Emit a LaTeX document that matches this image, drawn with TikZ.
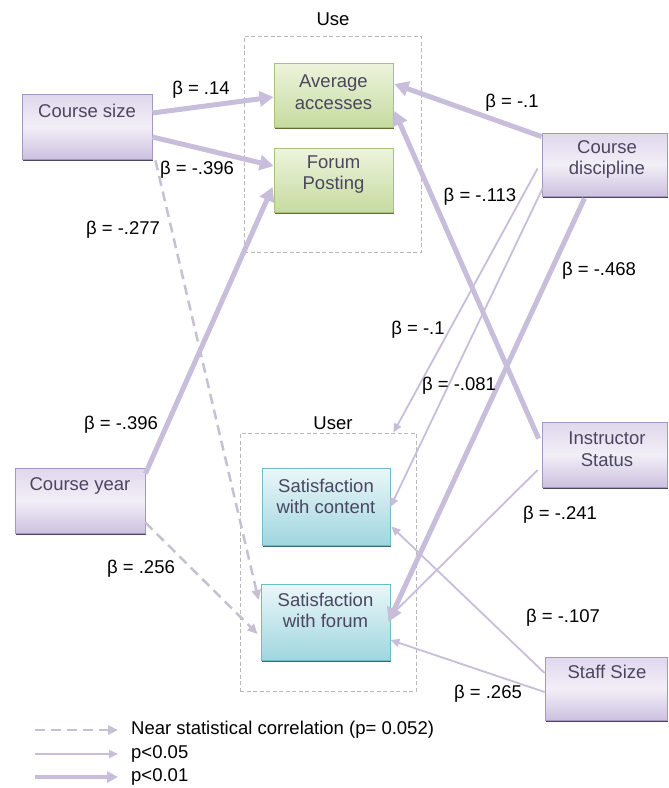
\documentclass[tikz,border=0pt]{standalone}
\usepackage{fontspec}
\setmainfont{Liberation Sans}
\usetikzlibrary{arrows.meta,calc,shadows}
\definecolor{arr}{HTML}{C8BEDB}
\definecolor{arrd}{HTML}{C6C0D2}
\definecolor{pbord}{HTML}{A598C0}
\definecolor{ptop}{HTML}{E0D7EC}
\definecolor{pmid}{HTML}{F2EFF7}
\definecolor{pbot}{HTML}{CDC1E0}
\definecolor{pshad}{HTML}{4E4468}
\definecolor{gtop}{HTML}{EDF4DC}
\definecolor{gbot}{HTML}{C6DBA0}
\definecolor{gbord}{HTML}{A8C27C}
\definecolor{gshad}{HTML}{5E7035}
\definecolor{btop}{HTML}{EAF7F9}
\definecolor{bbot}{HTML}{A0D6DF}
\definecolor{bbord}{HTML}{6DBCC8}
\definecolor{bshad}{HTML}{2F6E78}
\definecolor{boxtext}{HTML}{4B4660}
\definecolor{contc}{HTML}{B8B8B8}
\tikzset{
  fnt/.style={font=\fontsize{18.5pt}{21.5pt}\selectfont},
  boxbase/.style={draw, line width=0.8pt, inner sep=0pt},
  pbox/.style={boxbase, draw=pbord, top color=ptop, bottom color=pbot, middle color=pmid,
     drop shadow={shadow xshift=0.8pt, shadow yshift=-2pt, fill=pshad, opacity=1}},
  gbox/.style={boxbase, draw=gbord, top color=gtop, bottom color=gbot,
     drop shadow={shadow xshift=0.8pt, shadow yshift=-2pt, fill=gshad, opacity=1}},
  bbox/.style={boxbase, draw=bbord, top color=btop, bottom color=bbot,
     drop shadow={shadow xshift=0.8pt, shadow yshift=-2pt, fill=bshad, opacity=1}},
  btxt/.style={fnt, text=boxtext, align=center, inner sep=0pt},
  lab/.style={fnt, text=black, inner sep=0pt},
  cont/.style={draw=contc, line width=0.8pt, dash pattern=on 4pt off 2.5pt, inner sep=0pt},
  strong/.style={draw=arr, line width=5pt, -{Triangle[length=14pt,width=15pt]}},
  weak/.style={draw=arr, line width=1.8pt, -{Triangle[length=9pt,width=8pt]}},
  nearsig/.style={draw=arrd, line width=2.5pt, dash pattern=on 10pt off 6pt, -{Triangle[length=10pt,width=9pt]}},
}
\begin{document}
\begin{tikzpicture}[x=1pt,y=-1pt]
\useasboundingbox (0,0) rectangle (669,788);
% containers
\node[cont, minimum width=177pt, minimum height=216pt] (use) at (332.5,144) {};
\node[cont, minimum width=176pt, minimum height=258pt] (user) at (328,562) {};
\node[lab] (uselab) at (333,19) {Use};
\node[lab] (userlab) at (333,423) {User};
% boxes
\node[pbox, minimum width=130pt, minimum height=65pt] (cs) at (87,126.5) {};
\node[btxt] (cstxt) at (87,111) {Course size};
\node[pbox, minimum width=130pt, minimum height=65pt] (cy) at (80,500.5) {};
\node[btxt] (cytxt) at (80,486) {Course year};
\node[gbox, minimum width=119pt, minimum height=64pt] (aa) at (333.5,95) {};
\node[btxt] (aatxt) at (333.5,92) {Average\\accesses};
\node[gbox, minimum width=119pt, minimum height=64pt] (fp) at (333.5,180) {};
\node[btxt] (fptxt) at (333.5,174.5) {Forum\\Posting};
\node[bbox, minimum width=128pt, minimum height=77pt] (sc) at (326,506.5) {};
\node[btxt] (sctxt) at (326,496.5) {Satisfaction\\with content};
\node[bbox, minimum width=129pt, minimum height=76pt] (sf) at (325.5,622) {};
\node[btxt] (sftxt) at (325.5,610.5) {Satisfaction\\with forum};
\node[pbox, minimum width=125pt, minimum height=63pt] (cd) at (604.5,164.5) {};
\node[btxt] (cdtxt) at (607,159.5) {Course\\discipline};
\node[pbox, minimum width=125pt, minimum height=65pt] (is) at (604.5,454.5) {};
\node[btxt] (istxt) at (607,449) {Instructor\\Status};
\node[pbox, minimum width=122pt, minimum height=63pt] (ss) at (606,688.5) {};
\node[btxt] (sstxt) at (607,672) {Staff Size};
% connectors
\draw[strong] ($(cs.east)+(0,-13.5)$) -- ($(aa.west)+(0,2)$);
\draw[strong] ($(cs.east)+(0,10.5)$) -- ($(fp.west)+(0,-14)$);
\draw[nearsig] ($(cs.south east)+(3,1)$) -- ($(sf.west)+(-2,-22)$);
\draw[strong] ($(cy.north east)+(0,6)$) -- ($(fp.west)+(-1,7)$);
\draw[nearsig] ($(cy.east)+(0,22)$) -- ($(sf.west)+(-3,12)$);
\draw[strong] ($(cd.north west)+(0,4)$) -- ($(aa.east)+(1,-11)$);
\draw[weak] ($(cd.west)+(-4,4)$) -- ($(user.north east)+(-23,0)$);
\draw[weak] ($(cd.south west)+(1,-8)$) -- ($(sc.east)+(0,0.5)$);
\draw[strong] ($(cd.south)+(-20,2)$) -- ($(sf.east)+(-2,0)$);
\draw[strong] ($(is.west)+(-3,-16)$) -- ($(aa.east)+(1,16)$);
\draw[weak] ($(is.west)+(-4,15.5)$) -- ($(sf.east)+(0,-6)$);
\draw[weak] ($(ss.west)+(0,-15.5)$) -- ($(sc.east)+(1,20)$);
\draw[weak] ($(ss.west)+(0,3.5)$) -- ($(sf.east)+(0,18)$);
% labels
\node[lab] (b1) at (201,90) {β = .14};
\node[lab] (b2) at (197,170) {β = -.396};
\node[lab] (b3) at (123,230) {β = -.277};
\node[lab] (b4) at (512,103) {β = -.1};
\node[lab] (b5) at (480,197) {β = -.113};
\node[lab] (b6) at (599,271) {β = -.468};
\node[lab] (b7) at (418,330) {β = -.1};
\node[lab] (b8) at (459,386) {β = -.081};
\node[lab] (b9) at (121,425) {β = -.396};
\node[lab] (b10) at (560,515) {β = -.241};
\node[lab] (b11) at (141,569) {β = .256};
\node[lab] (b12) at (563,618) {β = -.107};
\node[lab] (b13) at (488,694) {β = .265};
% legend
\coordinate (la1) at (35,730); \coordinate (lb1) at (118,730);
\coordinate (la2) at (35,754); \coordinate (lb2) at (118,754);
\coordinate (la3) at (35,777); \coordinate (lb3) at (118,777);
\draw[nearsig] (la1) -- (lb1);
\draw[draw=arr, line width=1.8pt, -{Triangle[length=9pt,width=8pt]}] (la2) -- (lb2);
\draw[draw=arr, line width=4pt, -{Triangle[length=11pt,width=11pt]}] (la3) -- (lb3);
\node[lab, anchor=west] (lt1) at (131,730) {Near statistical correlation (p= 0.052)};
\node[lab, anchor=west] (lt2) at (131,754) {p<0.05};
\node[lab, anchor=west] (lt3) at (131,777) {p<0.01};
\end{tikzpicture}
\end{document}
